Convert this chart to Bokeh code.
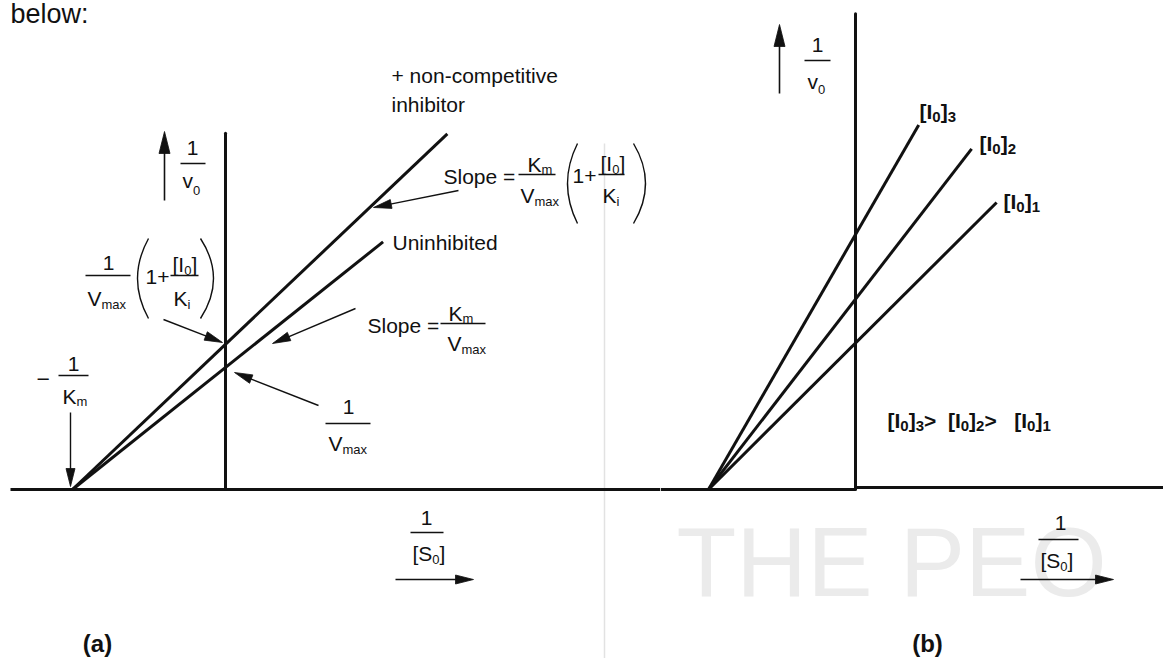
from bokeh.plotting import figure
from bokeh.layouts import row
from bokeh.models import Range1d, ColumnDataSource
from bokeh.core.properties import value
from bokeh.embed import file_html
from bokeh.resources import INLINE

# ---------------- kinetic parameters (double-reciprocal plot, arbitrary units) ----------------
KM = 1.0            # Michaelis constant
VMAX = 1.0          # maximal velocity

# panel (a): uninhibited line and one non-competitive inhibitor level, factor = 1 + [I0]/Ki
A_SERIES = ["Uninhibited", "+ non-competitive inhibitor"]
A_FACTOR = [1.00, 1.19]
A_X_END = [1.03, 1.45]          # last 1/[S0] value drawn for each line

# panel (b): three inhibitor concentrations
B_SERIES = ["[I0]1", "[I0]2", "[I0]3"]
B_FACTOR = [1.20, 1.56, 2.09]
B_X_END = [0.96, 0.79, 0.43]

# height of the 1/v0 axis in each panel
A_Y_TOP = 2.92
B_Y_TOP = 3.90

# ---------------- page layout ----------------
H = 658
W_A, W_B = 660, 503
ORIGIN_A, ORIGIN_B = (225, 489), (855, 489)    # where the axes cross, page pixels
SX_A, SX_B, SY = 153.0, 147.0, 122.0           # pixels per unit

INK = "#111111"
FAINT = "#ebebeb"
FONT = "Liberation Sans"
MAIN, SUB = 21, 13          # regular labels and their subscripts
BMAIN, BSUB = 21, 15        # bold labels of panel (b)
BASE_FIX = 0.34             # shifts the drawn baseline onto the requested one

# Arial-metric advance widths (per 1000 em) used to lay out runs of text
W_REG = {"[": 278, "]": 278, "I": 278, "K": 667, "V": 667, "S": 667, "m": 833, "a": 556,
         "x": 500, "i": 222, " ": 278, ">": 584, "+": 584, "v": 500}
W_BOLD = {"[": 333, "]": 333, "I": 278, " ": 278, ">": 584}


def text_width(s, size, bold):
    table = W_BOLD if bold else W_REG
    return sum(table.get(c, 556) for c in s) * size / 1000.0


class Panel:
    def __init__(self, width, left, origin, sx):
        self.left = left
        self.ox, self.oy = origin
        self.sx = sx
        x0 = (left - self.ox) / sx
        x1 = (left + width - self.ox) / sx
        y0 = (self.oy - H) / SY
        y1 = self.oy / SY
        self.fig = figure(width=width, height=H, x_range=Range1d(x0, x1), y_range=Range1d(y0, y1),
                          output_backend="svg", toolbar_location=None, min_border=0,
                          x_axis_location=None, y_axis_location=None,
                          outline_line_color=None, background_fill_color="white",
                          border_fill_color="white")
        self.fig.grid.visible = False
        self.texts = dict(x=[], y=[], text=[], size=[], style=[], align=[])
        self.thin = dict(x0=[], y0=[], x1=[], y1=[], w=[])
        self.heads = dict(xs=[], ys=[])
        self.parens = dict(x0=[], y0=[], x1=[], y1=[], cx=[], cy=[])

    # page pixel -> data
    def px(self, x):
        return (x - self.ox) / self.sx

    def py(self, y):
        return (self.oy - y) / SY

    def label(self, x, y, s, size, bold=False, align="left"):
        t = self.texts
        t["x"].append(self.px(x)); t["y"].append(self.py(y - BASE_FIX * size)); t["text"].append(s)
        t["size"].append(f"{size}px"); t["style"].append("bold" if bold else "normal")
        t["align"].append(align)

    def run(self, x, y, pieces, bold=False):
        for s, size, dy in pieces:
            self.label(x, y + dy, s, size, bold)
            x += text_width(s, size, bold)

    def bar(self, x0, x1, y, w=1.3):
        d = self.thin
        d["x0"].append(self.px(x0)); d["x1"].append(self.px(x1))
        d["y0"].append(self.py(y)); d["y1"].append(self.py(y)); d["w"].append(w)

    def arrow(self, x0, y0, x1, y1, length=18, half=4.5, w=1.4):
        dx, dy = x1 - x0, y1 - y0
        n = (dx * dx + dy * dy) ** 0.5
        ux, uy = dx / n, dy / n
        bx, by = x1 - ux * length, y1 - uy * length
        d = self.thin
        d["x0"].append(self.px(x0)); d["y0"].append(self.py(y0))
        d["x1"].append(self.px(bx + ux * 2)); d["y1"].append(self.py(by + uy * 2)); d["w"].append(w)
        pts = [(x1, y1), (bx - uy * half, by + ux * half), (bx + uy * half, by - ux * half)]
        self.heads["xs"].append([self.px(a) for a, _ in pts])
        self.heads["ys"].append([self.py(b) for _, b in pts])

    def paren(self, x_end, y_top, y_bot, x_ctrl):
        d = self.parens
        d["x0"].append(self.px(x_end)); d["y0"].append(self.py(y_top))
        d["x1"].append(self.px(x_end)); d["y1"].append(self.py(y_bot))
        d["cx"].append(self.px(x_ctrl)); d["cy"].append(self.py((y_top + y_bot) / 2))

    def vmax(self, x, y):
        self.run(x, y, [("V", MAIN, 0), ("max", SUB, 3)])

    def km(self, x, y):
        self.run(x, y, [("K", MAIN, 0), ("m", SUB, 2)])

    def finish(self):
        f = self.fig
        f.segment("x0", "y0", "x1", "y1", source=ColumnDataSource(self.thin),
                  line_color=INK, line_width="w")
        f.patches("xs", "ys", source=ColumnDataSource(self.heads), fill_color=INK, line_color=INK,
                  line_width=0.8)
        f.quadratic("x0", "y0", "x1", "y1", "cx", "cy", source=ColumnDataSource(self.parens),
                    line_color=INK, line_width=1.4)
        f.text("x", "y", text="text", source=ColumnDataSource(self.texts), text_font=value(FONT),
               text_font_size="size", text_font_style="style", text_align="align",
               text_baseline="alphabetic", text_color=INK)
        return f


def lb_line(x_end, factor):
    """Double-reciprocal line 1/v0 = factor/Vmax * (Km/[S0] + 1) from -1/Km to x_end."""
    xs = [-1.0 / KM, x_end]
    ys = [factor / VMAX * (KM * x + 1.0) for x in xs]
    return xs, ys


# ================= panel (a) =================
A = Panel(W_A, 0, ORIGIN_A, SX_A)
fa = A.fig

# faint rule between the two panels
fa.segment(x0=[A.px(604)], y0=[A.py(143)], x1=[A.px(604)], y1=[A.py(H)], line_color="#e2e2e2",
           line_width=1.5)

# axes
fa.segment(x0=[A.px(10)], y0=[0], x1=[A.px(W_A)], y1=[0], line_color=INK, line_width=3)
fa.segment(x0=[0], y0=[0], x1=[0], y1=[A_Y_TOP], line_color=INK, line_width=3, line_cap="round")

for x_end, factor in zip(A_X_END, A_FACTOR):
    xs, ys = lb_line(x_end, factor)
    fa.line(xs, ys, line_color=INK, line_width=3)

A.label(10, 23, "below:", 27)
A.label(391, 82, "+ non-competitive", MAIN)
A.label(391, 111, "inhibitor", MAIN)
A.label(392, 249, "Uninhibited", MAIN)

# Slope = Km/Vmax (1 + [I0]/Ki)
A.label(443, 183, "Slope =", MAIN)
A.bar(518, 555, 174)
A.km(527, 171)
A.vmax(520, 202)
A.paren(577, 143, 223, 557)
A.label(572, 183, "1+", MAIN)
A.bar(598, 624, 174)
A.run(600, 170, [("[I", MAIN, 0), ("0", SUB, 3), ("]", MAIN, 0)])
A.run(602, 202, [("K", MAIN, 0), ("i", SUB, 3)])
A.paren(633, 143, 223, 657)
A.arrow(458, 190, 373, 207)

# 1/Vmax (1 + [I0]/Ki) intercept
A.label(108, 270, "1", MAIN, align="center")
A.bar(85, 130, 275)
A.vmax(87, 305)
A.paren(148, 238, 318, 126)
A.label(145, 284, "1+", MAIN)
A.bar(170, 198, 275)
A.run(172, 271, [("[I", MAIN, 0), ("0", SUB, 3), ("]", MAIN, 0)])
A.run(173, 305, [("K", MAIN, 0), ("i", SUB, 3)])
A.paren(200, 238, 318, 226)
A.arrow(163, 319, 222, 342)

# 1/Vmax intercept
A.label(348, 414, "1", MAIN, align="center")
A.bar(325, 370, 423)
A.vmax(328, 450)
A.arrow(318, 405, 234, 372)

# Slope = Km/Vmax
A.label(367, 332, "Slope =", MAIN)
A.bar(440, 485, 323)
A.km(448, 320)
A.vmax(447, 350)
A.arrow(355, 308, 272, 343)

# -1/Km
A.label(36, 386, "\u2212", 23)
A.label(73, 371, "1", MAIN, align="center")
A.bar(58, 88, 375)
A.km(62, 403)
A.arrow(70, 412, 70, 486)

# axis labels
A.arrow(164, 200, 164, 131, length=22, half=5.5, w=1.6)
A.label(192, 155, "1", MAIN, align="center")
A.bar(180, 205, 163)
A.run(182, 187, [("v", MAIN, 0), ("0", SUB, 7)])

A.label(426, 525, "1", MAIN, align="center")
A.bar(410, 443, 532)
A.run(412, 560, [("[S", MAIN, 0), ("0", SUB, 3), ("]", MAIN, 0)])
A.arrow(395, 579, 473, 579, length=18, half=4.5, w=1.6)

A.label(97, 651, "(a)", 24, bold=True, align="center")
A.finish()

# ================= panel (b) =================
B = Panel(W_B, W_A, ORIGIN_B, SX_B)
fb = B.fig

# faint watermark lettering behind the plot
fb.text(x=[B.px(676)], y=[B.py(595 - BASE_FIX * 98)], text=["THE PEO"], text_font=value(FONT),
        text_font_size="98px", text_color=FAINT, text_baseline="alphabetic")

fb.segment(x0=[B.px(W_A)], y0=[0], x1=[0], y1=[0], line_color=INK, line_width=3)
fb.segment(x0=[0], y0=[2.0 / SY], x1=[B.px(W_A + W_B)], y1=[2.0 / SY], line_color=INK, line_width=3)
fb.segment(x0=[0], y0=[0], x1=[0], y1=[B_Y_TOP], line_color=INK, line_width=3, line_cap="round")

for x_end, factor in zip(B_X_END, B_FACTOR):
    xs, ys = lb_line(x_end, factor)
    fb.line(xs, ys, line_color=INK, line_width=3)


def conc(x, y, n):
    B.run(x, y, [("[I", BMAIN, 0), ("0", BSUB, 4), ("]", BMAIN, 0), (n, BSUB, 4)], bold=True)


conc(919, 118, "3")
conc(979, 150, "2")
conc(1003, 208, "1")

B.run(887, 427, [("[I", BMAIN, 0), ("0", BSUB, 4), ("]", BMAIN, 0), ("3", BSUB, 4), (" > ", BMAIN, 0),
                 ("[I", BMAIN, 0), ("0", BSUB, 4), ("]", BMAIN, 0), ("2", BSUB, 4), ("  > ", BMAIN, 0),
                 ("[I", BMAIN, 0), ("0", BSUB, 4), ("]", BMAIN, 0), ("1", BSUB, 4)], bold=True)

B.arrow(779, 93, 779, 24, length=22, half=5.5, w=1.6)
B.label(817, 52, "1", MAIN, align="center")
B.bar(804, 830, 60)
B.run(807, 88, [("v", MAIN, 0), ("0", SUB, 5)])

B.label(1060, 530, "1", MAIN, align="center")
B.bar(1038, 1078, 539)
B.run(1040, 567, [("[S", MAIN, 0), ("0", SUB, 3), ("]", MAIN, 0)])
B.arrow(1020, 579, 1113, 579, length=18, half=4.5, w=1.6)

B.label(927, 651, "(b)", 24, bold=True, align="center")
B.finish()

page = row(fa, fb)
with open("out.html", "w") as fh:
    fh.write(file_html(page, INLINE))
